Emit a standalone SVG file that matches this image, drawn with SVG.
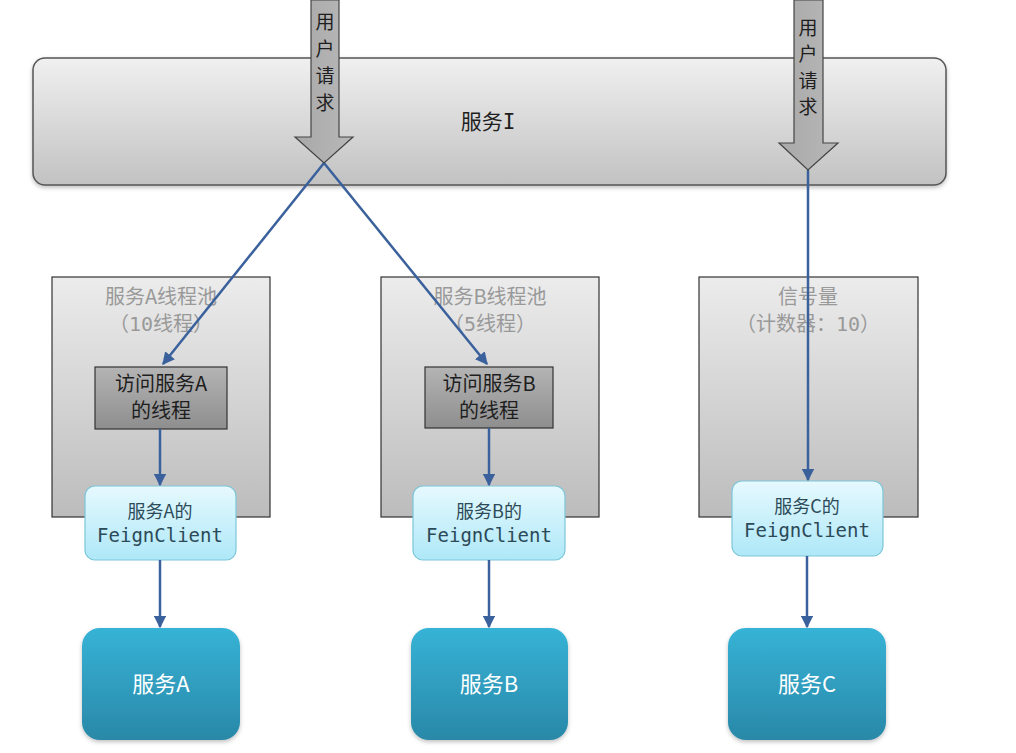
<svg xmlns="http://www.w3.org/2000/svg" width="1016" height="753" viewBox="0 0 1016 753">
<defs>
<linearGradient id="gSvc" x1="0" y1="0" x2="0" y2="1"><stop offset="0" stop-color="#f0f0f0"/><stop offset="1" stop-color="#c2c2c2"/></linearGradient>
<linearGradient id="gPool" x1="0" y1="0" x2="0" y2="1"><stop offset="0" stop-color="#ececec"/><stop offset="1" stop-color="#bcbcbc"/></linearGradient>
<linearGradient id="gThr" x1="0" y1="0" x2="0" y2="1"><stop offset="0" stop-color="#b4b4b4"/><stop offset="1" stop-color="#8e8e8e"/></linearGradient>
<linearGradient id="gFeign" x1="0" y1="0" x2="0" y2="1"><stop offset="0" stop-color="#e6f9fe"/><stop offset="1" stop-color="#aee8f8"/></linearGradient>
<linearGradient id="gDst" x1="0" y1="0" x2="0" y2="1"><stop offset="0" stop-color="#36b3d6"/><stop offset="1" stop-color="#2a88a8"/></linearGradient>
<linearGradient id="gArr" x1="0" y1="0" x2="1" y2="0"><stop offset="0" stop-color="#a8a8a8"/><stop offset="1" stop-color="#b8b8b8"/></linearGradient>
<filter id="sh" x="-10%" y="-10%" width="120%" height="130%"><feDropShadow dx="0" dy="2" stdDeviation="2" flood-color="#000" flood-opacity="0.25"/></filter>
<marker id="ah" viewBox="0 0 10 10" refX="9" refY="5" markerWidth="5" markerHeight="5" orient="auto" markerUnits="strokeWidth"><path d="M0,0 L10,5 L0,10 z" fill="#3a619c"/></marker>
</defs>
<style>
.cjk{font-family:"Noto Sans CJK SC","Noto Sans",sans-serif;}
.mono{font-family:"DejaVu Sans Mono","Noto Sans CJK SC",monospace;}
.pooltxt{fill:#999999;font-size:20px;text-anchor:middle;}
.thrtxt{fill:#1e1e1e;font-size:20px;text-anchor:middle;}
.ftxt{fill:#2c4a58;text-anchor:middle;}
.dtxt{fill:#ffffff;font-size:22px;text-anchor:middle;}
.conn{stroke:#3a619c;stroke-width:2.5;fill:none;}
.req{fill:#1e1e1e;font-size:19px;text-anchor:middle;}
</style>
<g id="serviceI">
<rect x="33" y="58" width="913" height="127" rx="12" fill="url(#gSvc)" stroke="#555" stroke-width="1.5" filter="url(#sh)"/>
<text x="488" y="129" class="cjk" font-size="21" fill="#1e1e1e" text-anchor="middle">服务<tspan class="mono">I</tspan></text>
</g>
<g id="poolA">
<rect x="52" y="277" width="218" height="240" fill="url(#gPool)" stroke="#333" stroke-width="1.2"/>
<text x="161" y="304" class="cjk pooltxt">服务A线程池</text>
<text x="161" y="331" class="mono pooltxt">（10线程）</text>
</g>
<g id="poolB">
<rect x="381" y="277" width="218" height="240" fill="url(#gPool)" stroke="#333" stroke-width="1.2"/>
<text x="490" y="304" class="cjk pooltxt">服务B线程池</text>
<text x="490" y="331" class="mono pooltxt">（5线程）</text>
</g>
<g id="semC">
<rect x="699" y="277" width="219" height="240" fill="url(#gPool)" stroke="#333" stroke-width="1.2"/>
<text x="808" y="304" class="cjk pooltxt">信号量</text>
<text x="808" y="331" class="mono pooltxt">（计数器：10）</text>
</g>
<g id="threadA">
<rect x="95" y="367" width="132" height="62" fill="url(#gThr)" stroke="#333" stroke-width="1.2"/>
<text x="161" y="391" class="cjk thrtxt">访问服务A</text>
<text x="161" y="418" class="cjk thrtxt">的线程</text>
</g>
<g id="threadB">
<rect x="425" y="367" width="128" height="61" fill="url(#gThr)" stroke="#333" stroke-width="1.2"/>
<text x="489" y="391" class="cjk thrtxt">访问服务B</text>
<text x="489" y="418" class="cjk thrtxt">的线程</text>
</g>
<g id="feignA">
<rect x="85" y="486" width="151" height="74" rx="10" fill="url(#gFeign)" stroke="#7cc6d8" stroke-width="1.2"/>
<text x="160" y="518" class="cjk ftxt" font-size="18">服务A的</text>
<text x="160" y="542" class="mono ftxt" font-size="19">FeignClient</text>
</g>
<g id="feignB">
<rect x="413" y="486" width="152" height="74" rx="10" fill="url(#gFeign)" stroke="#7cc6d8" stroke-width="1.2"/>
<text x="489" y="518" class="cjk ftxt" font-size="18">服务B的</text>
<text x="489" y="542" class="mono ftxt" font-size="19">FeignClient</text>
</g>
<g id="feignC">
<rect x="732" y="481" width="151" height="75" rx="10" fill="url(#gFeign)" stroke="#7cc6d8" stroke-width="1.2"/>
<text x="807" y="513" class="cjk ftxt" font-size="18">服务C的</text>
<text x="807" y="537" class="mono ftxt" font-size="19">FeignClient</text>
</g>
<g id="svcA">
<rect x="82" y="628" width="158" height="112" rx="18" fill="url(#gDst)" filter="url(#sh)"/>
<text x="161" y="692" class="cjk dtxt">服务A</text>
</g>
<g id="svcB">
<rect x="411" y="628" width="157" height="112" rx="18" fill="url(#gDst)" filter="url(#sh)"/>
<text x="489" y="692" class="cjk dtxt">服务B</text>
</g>
<g id="svcC">
<rect x="728" y="628" width="158" height="112" rx="18" fill="url(#gDst)" filter="url(#sh)"/>
<text x="807" y="692" class="cjk dtxt">服务C</text>
</g>
<g id="connectors">
<line x1="324" y1="163" x2="163" y2="364" class="conn" marker-end="url(#ah)"/>
<line x1="324" y1="163" x2="487" y2="364" class="conn" marker-end="url(#ah)"/>
<line x1="808" y1="170" x2="808" y2="480" class="conn" marker-end="url(#ah)"/>
<line x1="160" y1="429" x2="160" y2="485" class="conn" marker-end="url(#ah)"/>
<line x1="489" y1="428" x2="489" y2="485" class="conn" marker-end="url(#ah)"/>
<line x1="160" y1="560" x2="160" y2="627" class="conn" marker-end="url(#ah)"/>
<line x1="489" y1="560" x2="489" y2="627" class="conn" marker-end="url(#ah)"/>
<line x1="807" y1="556" x2="807" y2="627" class="conn" marker-end="url(#ah)"/>
</g>
<g id="request1">
<path d="M311,0 L339,0 L339,137 L353,137 L324,163 L295,137 L311,137 Z" fill="url(#gArr)" stroke="#444" stroke-width="1.2"/>
<text x="325" y="29" class="cjk req">用</text>
<text x="325" y="56" class="cjk req">户</text>
<text x="325" y="83" class="cjk req">请</text>
<text x="325" y="110" class="cjk req">求</text>
</g>
<g id="request2">
<path d="M794,0 L823,0 L823,143 L838,143 L808,170 L779,143 L794,143 Z" fill="url(#gArr)" stroke="#444" stroke-width="1.2"/>
<text x="808" y="35" class="cjk req">用</text>
<text x="808" y="61" class="cjk req">户</text>
<text x="808" y="88" class="cjk req">请</text>
<text x="808" y="114" class="cjk req">求</text>
</g>
</svg>
